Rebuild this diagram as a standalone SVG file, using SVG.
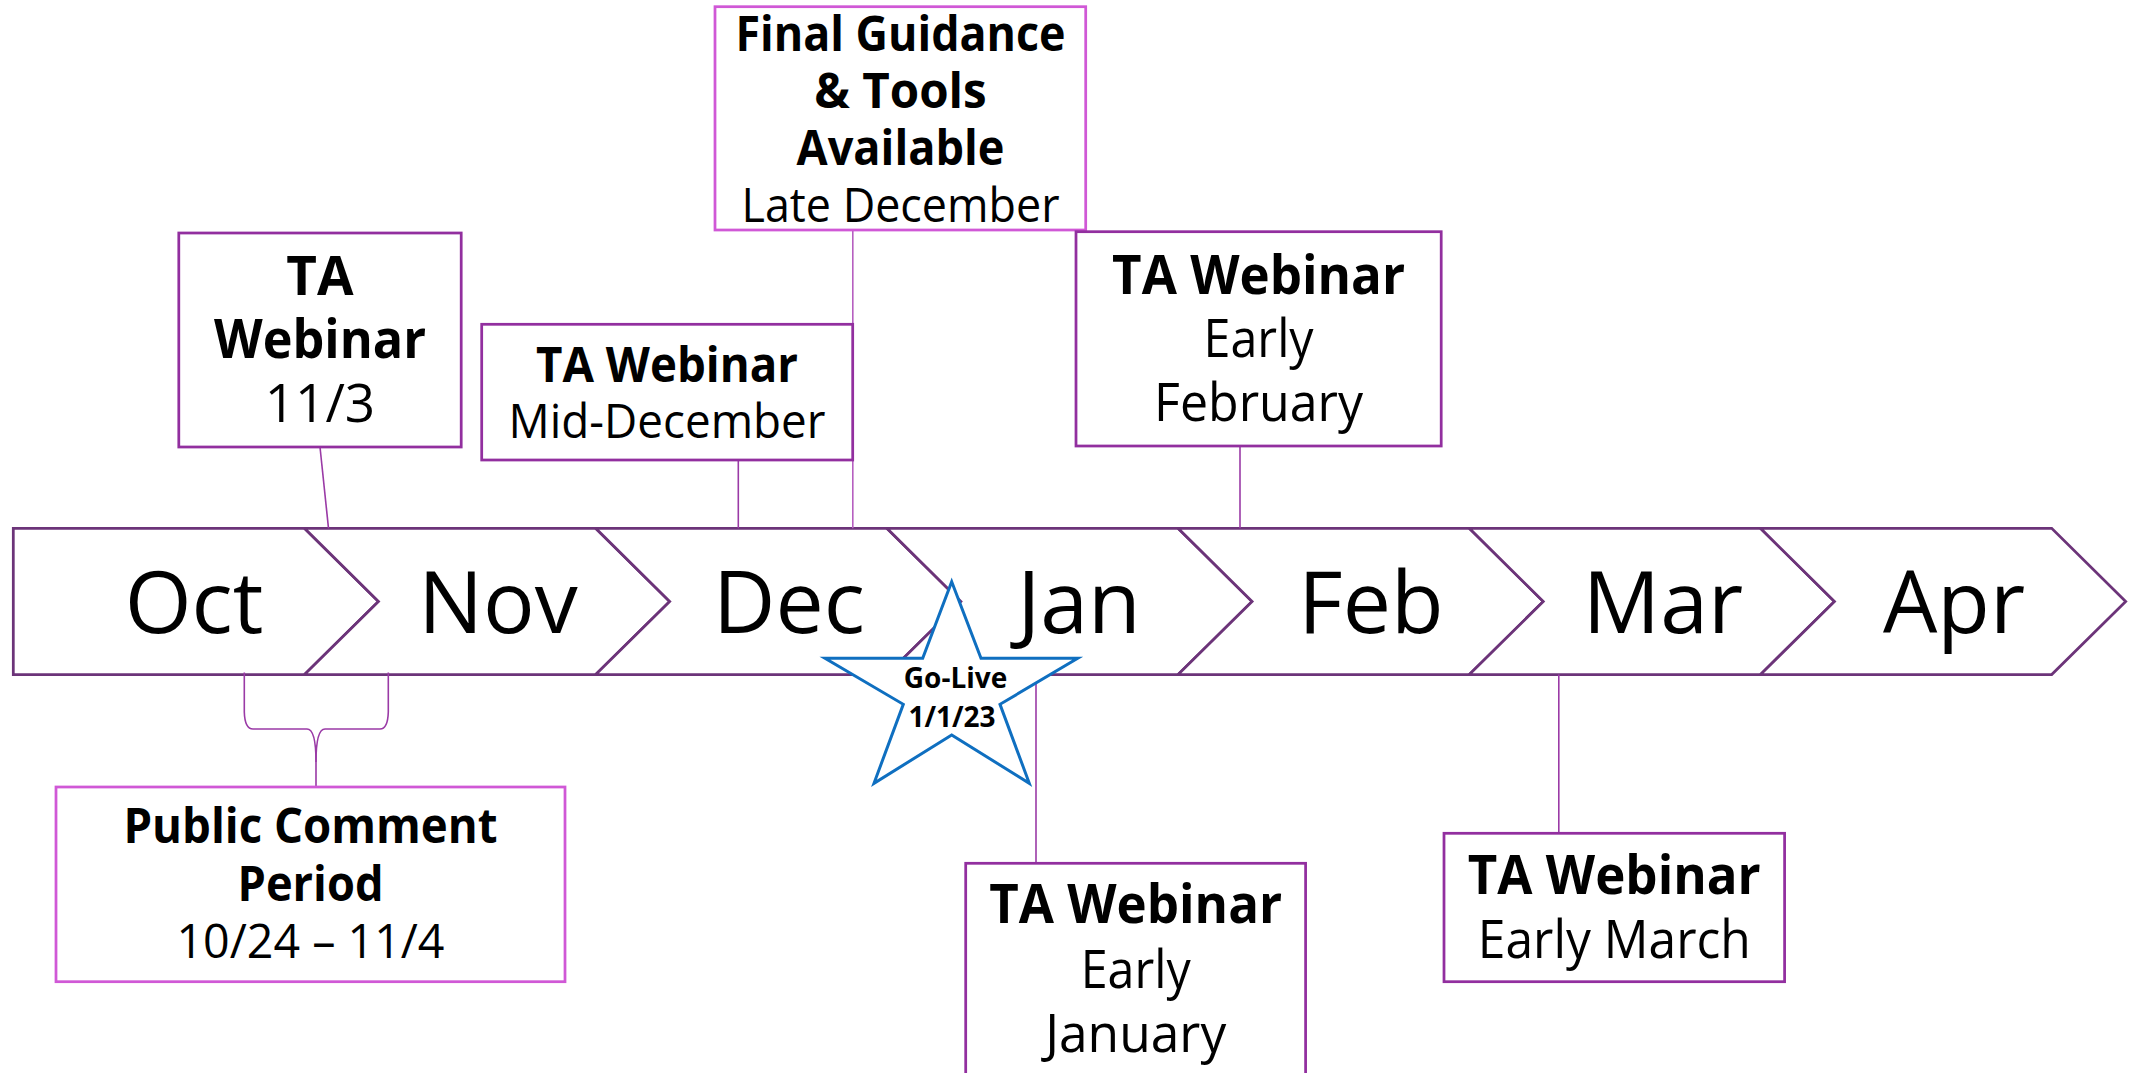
<svg xmlns="http://www.w3.org/2000/svg" width="2131" height="1073" viewBox="0 0 2131 1073">
<style>
.chev{fill:#fff;stroke:#6c3479;stroke-width:2.75;stroke-linejoin:miter}
.month{font-family:"Open Sans","Noto Sans",sans-serif;font-size:86px;fill:#000;text-anchor:middle}
.box{fill:#fff;stroke:#922f9f;stroke-width:2.75}
.box2{fill:#fff;stroke:#d058d6;stroke-width:2.75}
.t{font-family:"Open Sans","Noto Sans",sans-serif;fill:#000;text-anchor:middle}
.b{font-weight:700}
.f53{font-size:53px}
.f47{font-size:47.5px}
.conn{fill:none;stroke:#9a3aa6;stroke-width:1.6}
.conn2{fill:none;stroke:#b65fc0;stroke-width:1.6}
.star{fill:#fff;stroke:#0f6fc0;stroke-width:3;stroke-linejoin:miter}
.st{font-size:28px;font-weight:700}
</style>
<rect width="2131" height="1073" fill="#fff"/>

<g id="timeline">
  <g id="month-oct"><path class="chev" d="M13.3,528.3 H304.5 L378.5,601.5 L304.5,674.5 H13.3 Z"/><text class="month" x="194" y="633.3">Oct</text></g>
  <g id="month-nov"><path class="chev" d="M304.5,528.3 H595.7 L669.7,601.5 L595.7,674.5 H304.5 L378.5,601.5 Z"/><text class="month" x="498" y="633.3">Nov</text></g>
  <g id="month-dec"><path class="chev" d="M595.7,528.3 H886.9 L960.9,601.5 L886.9,674.5 H595.7 L669.7,601.5 Z"/><text class="month" x="789" y="633.3">Dec</text></g>
  <g id="month-jan"><path class="chev" d="M886.9,528.3 H1178.1 L1252.1,601.5 L1178.1,674.5 H886.9 L960.9,601.5 Z"/><text class="month" x="1079" y="633.3">Jan</text></g>
  <g id="month-feb"><path class="chev" d="M1178.1,528.3 H1469.3 L1543.3,601.5 L1469.3,674.5 H1178.1 L1252.1,601.5 Z"/><text class="month" x="1371" y="633.3">Feb</text></g>
  <g id="month-mar"><path class="chev" d="M1469.3,528.3 H1760.5 L1834.5,601.5 L1760.5,674.5 H1469.3 L1543.3,601.5 Z"/><text class="month" x="1663" y="633.3">Mar</text></g>
  <g id="month-apr"><path class="chev" d="M1760.5,528.3 H2051.7 L2125.7,601.5 L2051.7,674.5 H1760.5 L1834.5,601.5 Z"/><text class="month" x="1954" y="633.3">Apr</text></g>
</g>

<g id="connectors">
  <line class="conn" x1="320" y1="447" x2="328.5" y2="528.3"/>
  <line class="conn" x1="738.3" y1="460" x2="738.3" y2="528.3"/>
  <line class="conn2" x1="852.8" y1="230" x2="852.8" y2="528.3"/>
  <line class="conn" x1="1240" y1="446" x2="1240" y2="528.3"/>
  <line class="conn" x1="1036" y1="674.5" x2="1036" y2="863.3"/>
  <line class="conn" x1="1558.8" y1="674.5" x2="1558.8" y2="833.3"/>
  <path class="conn" d="M244.3,672.5 L244.3,712 Q244.8,729 253,729 L307,729 Q316,729 316,762 L316,787"/>
  <path class="conn" d="M388.3,672.5 L388.3,712 Q387.8,729 380,729 L325,729 Q316,729 316,762"/>
</g>

<g id="node-ta-1103">
  <rect class="box" x="178.8" y="233" width="282.4" height="214"/>
  <text class="t b f53" x="320" y="294.5">TA</text>
  <text class="t b f53" x="320" y="358" textLength="212" lengthAdjust="spacingAndGlyphs">Webinar</text>
  <text class="t f53" x="320" y="421.5">11/3</text>
</g>

<g id="node-ta-middec">
  <rect class="box" x="481.7" y="324.3" width="371" height="135.7"/>
  <text class="t b f47" x="667" y="381.5" textLength="262" lengthAdjust="spacingAndGlyphs">TA Webinar</text>
  <text class="t f47" x="667" y="438" textLength="317" lengthAdjust="spacingAndGlyphs">Mid-December</text>
</g>

<g id="node-final-guidance">
  <rect class="box2" x="715" y="6.7" width="370.7" height="223.3"/>
  <text class="t b f47" x="900.5" y="50.7" textLength="330" lengthAdjust="spacingAndGlyphs">Final Guidance</text>
  <text class="t b f47" x="900.5" y="107.9">&amp; Tools</text>
  <text class="t b f47" x="900.5" y="165.1" textLength="208" lengthAdjust="spacingAndGlyphs">Available</text>
  <text class="t f47" x="900.5" y="222.3" textLength="318" lengthAdjust="spacingAndGlyphs">Late December</text>
</g>

<g id="node-ta-earlyfeb">
  <rect class="box" x="1076" y="231.7" width="365.2" height="214.3"/>
  <text class="t b f53" x="1258.6" y="293.5" textLength="293" lengthAdjust="spacingAndGlyphs">TA Webinar</text>
  <text class="t f53" x="1258.6" y="357" textLength="110" lengthAdjust="spacingAndGlyphs">Early</text>
  <text class="t f53" x="1258.6" y="420.5" textLength="209" lengthAdjust="spacingAndGlyphs">February</text>
</g>

<g id="node-public-comment">
  <rect class="box2" x="56" y="787" width="509" height="194.7"/>
  <text class="t b f47" x="310.5" y="843.3" textLength="374" lengthAdjust="spacingAndGlyphs">Public Comment</text>
  <text class="t b f47" x="310.5" y="901" textLength="146" lengthAdjust="spacingAndGlyphs">Period</text>
  <text class="t f47" x="310.5" y="958.3" textLength="268" lengthAdjust="spacingAndGlyphs">10/24 – 11/4</text>
</g>

<g id="node-ta-earlyjan">
  <rect class="box" x="965.7" y="863.3" width="339.9" height="230"/>
  <text class="t b f53" x="1135.7" y="923.3" textLength="293" lengthAdjust="spacingAndGlyphs">TA Webinar</text>
  <text class="t f53" x="1135.7" y="987.5" textLength="110" lengthAdjust="spacingAndGlyphs">Early</text>
  <text class="t f53" x="1135.7" y="1051.5" textLength="181" lengthAdjust="spacingAndGlyphs">January</text>
</g>

<g id="node-ta-earlymar">
  <rect class="box" x="1444" y="833.3" width="340.6" height="148.4"/>
  <text class="t b f53" x="1614.3" y="894.3" textLength="293" lengthAdjust="spacingAndGlyphs">TA Webinar</text>
  <text class="t f53" x="1614.3" y="958.3" textLength="273" lengthAdjust="spacingAndGlyphs">Early March</text>
</g>

<g id="node-golive">
  <polygon class="star" points="951.7,581.7 981,658.3 1077.7,658.3 1000,704.3 1029.3,783.3 951.7,735 874,783.3 903.3,704.3 825,658.3 922.7,658.3"/>
  <text class="t st" x="955.5" y="688.3">Go-Live</text>
  <text class="t st" x="952" y="726.7">1/1/23</text>
</g>
</svg>
